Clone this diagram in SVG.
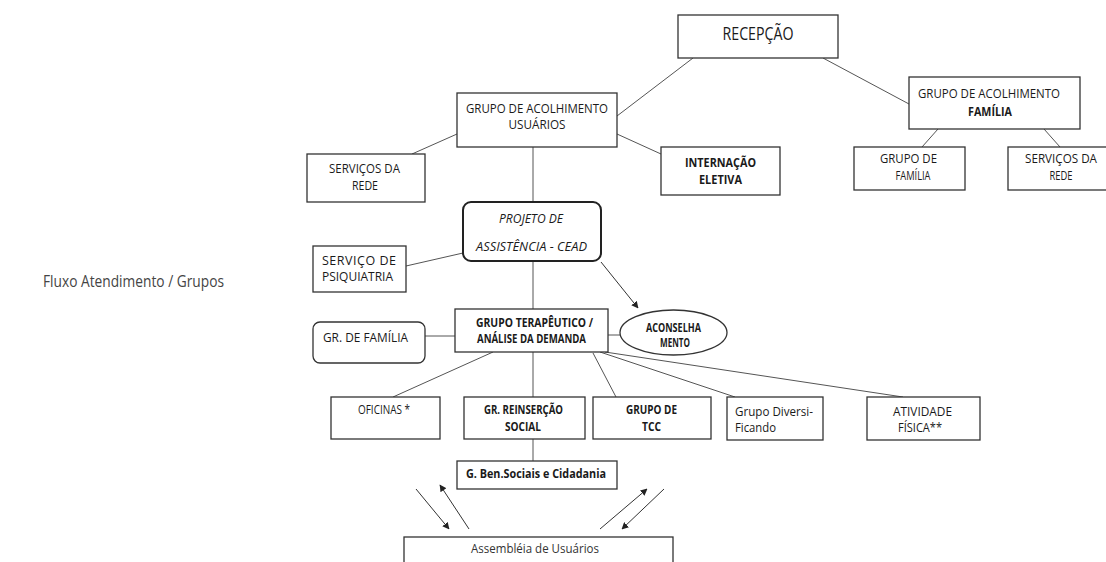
<svg xmlns="http://www.w3.org/2000/svg" width="1106" height="562" viewBox="0 0 1106 562">
<defs>
<marker id="ah" viewBox="0 0 10 10" refX="9" refY="5" markerWidth="7" markerHeight="7" orient="auto" markerUnits="userSpaceOnUse">
<path d="M0,0 L10,5 L0,10 z" fill="#222"/>
</marker>
<style>
.box{fill:#fff;stroke:#333;stroke-width:1.3}
.bold-box{fill:#fff;stroke:#222;stroke-width:2}
.ln{stroke:#555;stroke-width:1;fill:none}
.ar{stroke:#333;stroke-width:1;fill:none;marker-end:url(#ah)}
text{font-family:"Open Sans","Liberation Sans",sans-serif;fill:#1a1a1a;font-size:12.5px}
.b{font-weight:bold}
.it{font-style:italic}
.title{font-size:16.5px;fill:#444}
</style>
</defs>
<rect width="1106" height="562" fill="#fff"/>
<text class="title" x="43" y="287" textLength="181" lengthAdjust="spacingAndGlyphs">Fluxo Atendimento / Grupos</text>
<g id="connectors">
<line class="ln" x1="693" y1="58" x2="617" y2="116"/>
<line class="ln" x1="823" y1="58" x2="909" y2="104"/>
<line class="ln" x1="617" y1="134" x2="661" y2="154"/>
<line class="ln" x1="457" y1="134" x2="412" y2="154"/>
<line class="ln" x1="533" y1="147" x2="533" y2="202"/>
<line class="ln" x1="938" y1="129" x2="922" y2="147"/>
<line class="ln" x1="1044" y1="129" x2="1060" y2="147"/>
<line class="ln" x1="406" y1="266" x2="463" y2="253"/>
<line class="ln" x1="533" y1="261" x2="533" y2="309"/>
<line class="ar" x1="601" y1="262" x2="638" y2="308"/>
<line class="ln" x1="425" y1="336" x2="455" y2="336"/>
<line class="ln" x1="608" y1="335" x2="620" y2="335"/>
<line class="ln" x1="493" y1="352" x2="393" y2="397"/>
<line class="ln" x1="533" y1="352" x2="533" y2="397"/>
<line class="ln" x1="593" y1="353" x2="616" y2="397"/>
<line class="ln" x1="600" y1="352" x2="735" y2="397"/>
<line class="ln" x1="605" y1="352" x2="903" y2="397"/>
<line class="ln" x1="533" y1="439" x2="533" y2="461"/>
<line class="ar" x1="416" y1="489" x2="449" y2="529"/>
<line class="ar" x1="469" y1="529" x2="440" y2="485"/>
<line class="ar" x1="600" y1="529" x2="647" y2="489"/>
<line class="ar" x1="664" y1="489" x2="622" y2="529"/>
</g>
<g id="recepcao">
<rect class="box" x="678" y="15" width="160" height="43"/>
<text x="758" y="40" text-anchor="middle" style="font-size:18.5px" textLength="71" lengthAdjust="spacingAndGlyphs">RECEPÇÃO</text>
</g>
<g id="acolhimento-usuarios">
<rect class="box" x="457" y="93" width="160" height="54"/>
<text x="537" y="113" text-anchor="middle" textLength="142" lengthAdjust="spacingAndGlyphs">GRUPO DE ACOLHIMENTO</text>
<text x="537" y="129" text-anchor="middle" textLength="57" lengthAdjust="spacingAndGlyphs">USUÁRIOS</text>
</g>
<g id="internacao">
<rect class="box" x="661" y="147" width="119" height="48"/>
<text class="b" x="720.5" y="167" text-anchor="middle" textLength="71" lengthAdjust="spacingAndGlyphs">INTERNAÇÃO</text>
<text class="b" x="720.5" y="184" text-anchor="middle" textLength="43" lengthAdjust="spacingAndGlyphs">ELETIVA</text>
</g>
<g id="acolhimento-familia">
<rect class="box" x="909" y="77" width="171" height="52"/>
<text x="989" y="98" text-anchor="middle" textLength="142" lengthAdjust="spacingAndGlyphs">GRUPO DE ACOLHIMENTO</text>
<text class="b" x="990" y="116" text-anchor="middle" textLength="44" lengthAdjust="spacingAndGlyphs">FAMÍLIA</text>
</g>
<g id="grupo-familia">
<rect class="box" x="854" y="147" width="111" height="43"/>
<text x="908.5" y="163" text-anchor="middle" textLength="57" lengthAdjust="spacingAndGlyphs">GRUPO DE</text>
<text x="913" y="180" text-anchor="middle" textLength="35" lengthAdjust="spacingAndGlyphs">FAMÍLIA</text>
</g>
<g id="servicos-rede-direita">
<rect class="box" x="1008" y="147" width="110" height="43"/>
<text x="1061" y="163" text-anchor="middle" textLength="72" lengthAdjust="spacingAndGlyphs">SERVIÇOS DA</text>
<text x="1061" y="180" text-anchor="middle" textLength="23" lengthAdjust="spacingAndGlyphs">REDE</text>
</g>
<g id="servicos-rede-esquerda">
<rect class="box" x="307" y="154" width="118" height="48"/>
<text x="364.5" y="173" text-anchor="middle" textLength="71" lengthAdjust="spacingAndGlyphs">SERVIÇOS DA</text>
<text x="365" y="190" text-anchor="middle" textLength="26" lengthAdjust="spacingAndGlyphs">REDE</text>
</g>
<g id="projeto">
<rect class="bold-box" x="463" y="202" width="138" height="59" rx="8"/>
<text class="it" x="531" y="223" text-anchor="middle" textLength="64" lengthAdjust="spacingAndGlyphs">PROJETO DE</text>
<text class="it" x="531.5" y="251" text-anchor="middle" textLength="111" lengthAdjust="spacingAndGlyphs">ASSISTÊNCIA  -  CEAD</text>
</g>
<g id="psiquiatria">
<rect class="box" x="313" y="246" width="93" height="46"/>
<text x="322" y="265" textLength="74" lengthAdjust="spacing">SERVIÇO DE</text>
<text x="322" y="281" textLength="71" lengthAdjust="spacingAndGlyphs">PSIQUIATRIA</text>
</g>
<g id="gr-familia">
<rect class="box" x="313" y="322" width="112" height="41" rx="7"/>
<text x="365.5" y="342" text-anchor="middle" style="font-size:13px" textLength="85" lengthAdjust="spacingAndGlyphs">GR. DE FAMÍLIA</text>
</g>
<g id="grupo-terapeutico">
<rect class="box" x="455" y="309" width="153" height="43"/>
<text class="b" x="534.5" y="327" text-anchor="middle" textLength="117" lengthAdjust="spacingAndGlyphs">GRUPO TERAPÊUTICO  /</text>
<text class="b" x="531.5" y="343" text-anchor="middle" textLength="109" lengthAdjust="spacingAndGlyphs">ANÁLISE DA DEMANDA</text>
</g>
<g id="aconselhamento">
<ellipse class="box" cx="673.5" cy="332.5" rx="53.5" ry="22.5"/>
<text class="b" x="673.5" y="332" text-anchor="middle" textLength="55" lengthAdjust="spacingAndGlyphs">ACONSELHA</text>
<text class="b" x="675" y="347" text-anchor="middle" textLength="30" lengthAdjust="spacingAndGlyphs">MENTO</text>
</g>
<g id="oficinas">
<rect class="box" x="331" y="397" width="109" height="42"/>
<text x="384" y="414" text-anchor="middle" textLength="52" lengthAdjust="spacingAndGlyphs">OFICINAS *</text>
</g>
<g id="reinsercao">
<rect class="box" x="464" y="397" width="121" height="42"/>
<text class="b" x="523.5" y="414" text-anchor="middle" textLength="79" lengthAdjust="spacingAndGlyphs">GR. REINSERÇÃO</text>
<text class="b" x="523" y="431" text-anchor="middle" textLength="36" lengthAdjust="spacingAndGlyphs">SOCIAL</text>
</g>
<g id="tcc">
<rect class="box" x="593" y="397" width="118" height="42"/>
<text class="b" x="651.5" y="414" text-anchor="middle" textLength="51" lengthAdjust="spacingAndGlyphs">GRUPO DE</text>
<text class="b" x="651.5" y="431" text-anchor="middle" textLength="19" lengthAdjust="spacingAndGlyphs">TCC</text>
</g>
<g id="diversificando">
<rect class="box" x="727" y="397" width="96" height="43"/>
<text x="735" y="416" textLength="78" lengthAdjust="spacingAndGlyphs">Grupo Diversi-</text>
<text x="735" y="432" textLength="41" lengthAdjust="spacingAndGlyphs">Ficando</text>
</g>
<g id="atividade">
<rect class="box" x="867" y="397" width="113" height="43"/>
<text x="922.5" y="416" text-anchor="middle" textLength="59" lengthAdjust="spacingAndGlyphs">ATIVIDADE</text>
<text x="920" y="432" text-anchor="middle" textLength="44" lengthAdjust="spacingAndGlyphs">FÍSICA**</text>
</g>
<g id="beneficios">
<rect class="box" x="457" y="461" width="160" height="28"/>
<text class="b" x="536" y="478" text-anchor="middle" textLength="140" lengthAdjust="spacingAndGlyphs">G. Ben.Sociais e Cidadania</text>
</g>
<g id="assembleia">
<rect class="box" x="404" y="537" width="269" height="40"/>
<text x="535" y="553" text-anchor="middle" textLength="128" lengthAdjust="spacingAndGlyphs" style="fill:#333">Assembléia de Usuários</text>
</g>
</svg>
